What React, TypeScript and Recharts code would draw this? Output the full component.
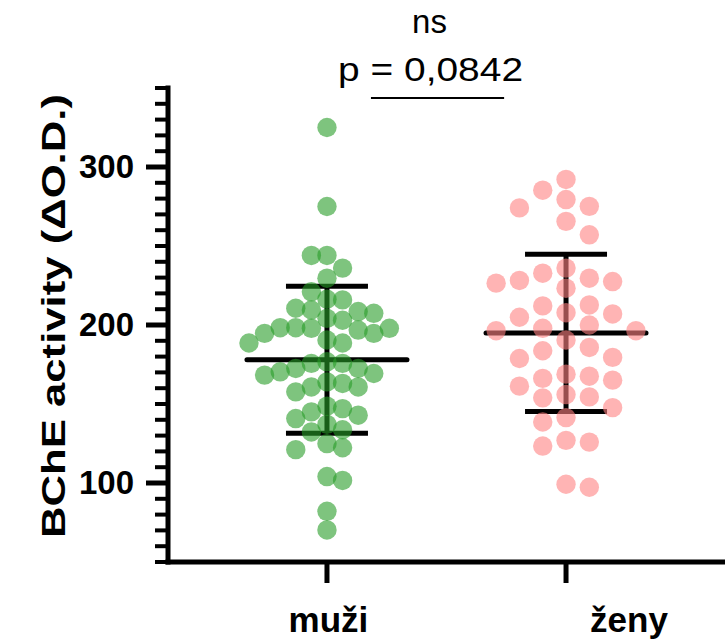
import React from 'react';
import { ScatterChart, Scatter, XAxis, YAxis, ErrorBar, ReferenceLine, Label } from 'recharts';

// ---------- data ----------
const categories = ['muži', 'ženy'];
const categoryX = [1, 2];

const muziValues = [
  325, 275, 244, 244, 236, 229.6, 221, 210.6, 215.9, 207.4, 203, 208.5, 216.3, 209.5, 204.2,
  197.9, 198.3, 197.9, 194.7, 188.6, 188.6, 196.8, 190.5, 198.3, 194.7,
  175.7, 172.5, 175.7, 176.7, 169.3, 170.4, 172.5, 168.3,
  160.8, 164, 157.7, 163, 160.8,
  142.9, 147.1, 148.6, 140.8, 137.1, 145, 133.7, 132.3,
  121.1, 122.3, 124.9, 101.6, 104.1, 82.1, 70.3,
];
const zenyValues = [
  292.1, 285.3, 279.4, 275.1, 274.1, 265.6, 257.1,
  232.8, 229.6, 236, 223.3, 228.2, 226.5, 227.5,
  212.7, 212.1, 207.8, 207, 204.9,
  197.9, 196.4, 196.4, 200,
  190.5, 183.7, 185.8, 179.5, 178.8,
  167.6, 168.9, 166.2, 165.1, 161.3,
  156, 153.9, 154.5, 147.7,
  138.6, 141.4, 125.9, 127, 123.4, 97.3, 99.2,
];
const groupMeans = [178, 195];
const groupSDs = [46.5, 49.8];

const yTicks = [50, 60, 70, 80, 90, 100, 110, 120, 130, 140, 150, 160, 170, 180, 190, 200,
  210, 220, 230, 240, 250, 260, 270, 280, 290, 300, 310, 320, 330, 340, 350];
const yLabeledTicks = [100, 200, 300];
const yAxisTitle = 'BChE activity (ΔO.D.)';
const significanceText = 'ns';
const pValueText = 'p = 0,0842';
const bracketY = 343.7;
const bracketX = [1.184, 1.741];

// ---------- layout ----------
const W = 725;
const H = 640;
const TOP = 88;
const XAXIS_H = 78;
const YAXIS_W = 168;
const X_DOMAIN: [number, number] = [0.335, 2.665];
const Y_DOMAIN: [number, number] = [50, 350];
const PLOT_W = W - YAXIS_W;
const PLOT_H = H - TOP - XAXIS_H;
const PX_PER_X = PLOT_W / (X_DOMAIN[1] - X_DOMAIN[0]);
const PX_PER_Y = PLOT_H / (Y_DOMAIN[1] - Y_DOMAIN[0]);
const DOT_R = 9.7;
const FONT = '"Liberation Sans", Arial, Helvetica, sans-serif';

// grid beeswarm layout (column spacing sx, vertical clearance sy, candidate grid step)
function swarmOffsets(values: number[], sx: number, sy: number, grid: number): number[] {
  const order = values.map((v, i) => i).sort((a, b) => values[b] - values[a]);
  const placed: { x: number; y: number }[] = [];
  const out = new Array(values.length).fill(0);
  for (const i of order) {
    const y = values[i] * PX_PER_Y;
    const near = placed.filter((p) => Math.abs(p.y - y) < sy);
    let chosen = 0;
    for (let k = 0; k < 40; k++) {
      const opts = k === 0 ? [0] : [-k * grid, k * grid];
      const left = placed.filter((p) => p.x < -0.01).length;
      const right = placed.filter((p) => p.x > 0.01).length;
      if (k > 0 && right < left) opts.reverse();
      const ok = opts.find((c) => near.every((p) => Math.abs(p.x - c) >= sx - 0.01));
      if (ok !== undefined) {
        chosen = ok;
        break;
      }
    }
    placed.push({ x: chosen, y });
    out[i] = chosen;
  }
  return out;
}

const buildPoints = (values: number[], cx: number, sx: number, sy: number, grid: number) => {
  const offs = swarmOffsets(values, sx, sy, grid);
  return values.map((v, i) => ({ x: cx + offs[i] / PX_PER_X, y: v }));
};

const muziPoints = buildPoints(muziValues, categoryX[0], 15.6, 18, 7.8);
const zenyPoints = buildPoints(zenyValues, categoryX[1], 23.3, 19, 23.3);
const summary = categoryX.map((x, i) => ({ x, y: groupMeans[i], sd: groupSDs[i] }));

// ---------- renderers ----------
const YTick = (props: any) => {
  const { y, payload } = props;
  const v = payload.value;
  const major = yLabeledTicks.includes(v);
  return (
    <g>
      <line x1={YAXIS_W - (major ? 22 : 13)} x2={YAXIS_W} y1={y} y2={y} stroke="#000" strokeWidth={major ? 5 : 4} />
      {major && (
        <text x={134} y={y + 11} textAnchor="end" fontSize={33} fontWeight="bold" fontFamily={FONT} fill="#000">
          {v}
        </text>
      )}
    </g>
  );
};

const xLabelShift = [1.5, 63];
const XTick = (props: any) => {
  const { x, payload } = props;
  const idx = categoryX.indexOf(payload.value);
  return (
    <text x={x + (xLabelShift[idx] ?? 0)} y={632} textAnchor="middle" fontSize={35} fontWeight="bold" fontFamily={FONT} fill="#000">
      {categories[idx]}
    </text>
  );
};

const YTitle = () => (
  <text
    x={65}
    y={316}
    transform="rotate(-90 65 316)"
    textAnchor="middle"
    fontSize={34}
    fontWeight="bold"
    fontFamily={FONT}
    fill="#000"
    textLength={444}
    lengthAdjust="spacingAndGlyphs"
  >
    {yAxisTitle}
  </text>
);

const SigLabel = (props: any) => {
  const vb = props && props.viewBox;
  const cx = vb && typeof vb.x === 'number' ? vb.x + (vb.width || 0) / 2 : 437.5;
  const ly = vb && typeof vb.y === 'number' ? vb.y : 98;
  return (
    <g>
      <text x={cx - 8} y={ly - 65} textAnchor="middle" fontSize={33} fontFamily={FONT} fill="#000">
        {significanceText}
      </text>
      <text x={cx - 7} y={ly - 17} textAnchor="middle" fontSize={33} fontFamily={FONT} fill="#000" textLength={185} lengthAdjust="spacingAndGlyphs">
        {pValueText}
      </text>
    </g>
  );
};

const Dot = (color: string) => (props: any) => (
  <circle cx={props.cx} cy={props.cy} r={DOT_R} fill={color} fillOpacity={0.6} />
);

const MeanLine = (props: any) => (
  <line x1={props.cx - 80} x2={props.cx + 80} y1={props.cy} y2={props.cy} stroke="#000" strokeWidth={5} strokeLinecap="round" />
);

export default function App() {
  return (
    <div style={{ position: 'absolute', left: 0, top: 0, background: '#fff' }}>
      <ScatterChart width={W} height={H} margin={{ top: TOP, right: 0, bottom: 0, left: 0 }}>
        <XAxis
          type="number"
          dataKey="x"
          domain={X_DOMAIN}
          ticks={categoryX}
          interval={0}
          allowDataOverflow
          height={XAXIS_H}
          axisLine={{ stroke: '#000', strokeWidth: 5, strokeLinecap: 'square' }}
          tickLine={{ stroke: '#000', strokeWidth: 5 }}
          tickSize={21}
          tick={<XTick />}
        />
        <YAxis
          type="number"
          dataKey="y"
          domain={Y_DOMAIN}
          ticks={yTicks}
          interval={0}
          allowDataOverflow
          width={YAXIS_W}
          axisLine={{ stroke: '#000', strokeWidth: 5, strokeLinecap: 'square' }}
          tickLine={false}
          tickSize={0}
          tickMargin={0}
          tick={<YTick />}
        >
          <Label content={<YTitle />} />
        </YAxis>
        <Scatter data={summary} shape={<MeanLine />} isAnimationActive={false}>
          <ErrorBar dataKey="sd" direction="y" width={41} stroke="#000" strokeWidth={5} />
        </Scatter>
        <Scatter data={muziPoints} shape={Dot('rgb(40,157,40)')} isAnimationActive={false} />
        <Scatter data={zenyPoints} shape={Dot('rgb(255,130,130)')} isAnimationActive={false} />
        <ReferenceLine
          segment={[{ x: bracketX[0], y: bracketY }, { x: bracketX[1], y: bracketY }]}
          stroke="#000"
          strokeWidth={2}
          ifOverflow="visible"
        >
          <Label content={<SigLabel />} />
        </ReferenceLine>
      </ScatterChart>
    </div>
  );
}
